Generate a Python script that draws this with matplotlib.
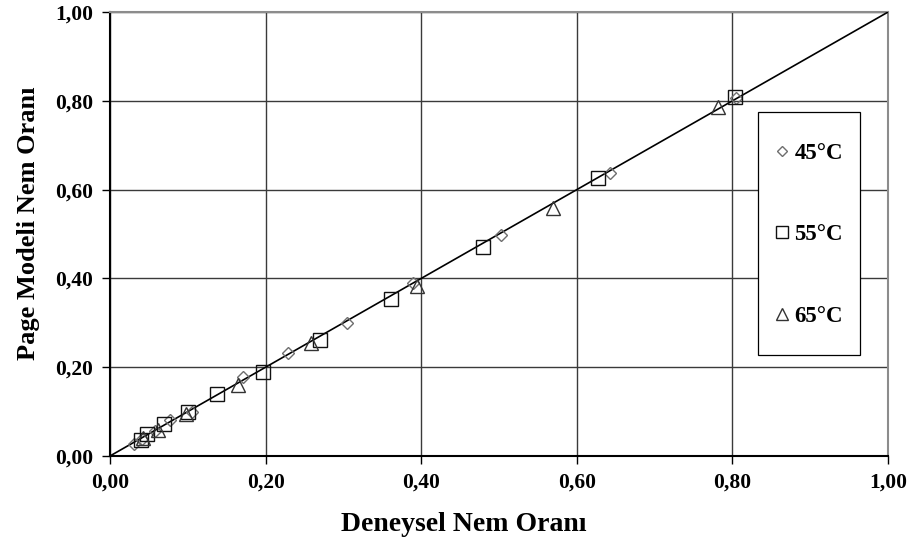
import numpy as np
import matplotlib
matplotlib.use("Agg")
import matplotlib.pyplot as plt
from matplotlib.patches import Rectangle

plt.rcParams["font.family"] = ["Liberation Serif", "DejaVu Serif"]
plt.rcParams["font.weight"] = "bold"

# Deneysel vs. Page modeli nem oranlari
x_45 = [0.031, 0.041, 0.058, 0.077, 0.105, 0.171, 0.229, 0.305, 0.390, 0.503, 0.643, 0.805]
y_45 = [0.028, 0.038, 0.057, 0.080, 0.100, 0.178, 0.232, 0.300, 0.390, 0.498, 0.637, 0.807]

x_55 = [0.040, 0.048, 0.070, 0.100, 0.137, 0.197, 0.270, 0.361, 0.479, 0.627, 0.803]
y_55 = [0.036, 0.050, 0.072, 0.100, 0.139, 0.190, 0.261, 0.354, 0.471, 0.626, 0.809]

x_65 = [0.042, 0.062, 0.098, 0.165, 0.258, 0.395, 0.569, 0.781]
y_65 = [0.040, 0.058, 0.095, 0.160, 0.254, 0.383, 0.559, 0.786]

ticks = [0.0, 0.2, 0.4, 0.6, 0.8, 1.0]
tick_labels = ["0,00", "0,20", "0,40", "0,60", "0,80", "1,00"]

fig = plt.figure(figsize=(9.12, 5.48), dpi=100)
ax = fig.add_axes([0.1206, 0.1679, 0.8531, 0.8101])

# 1:1 line
ax.plot([0, 1], [0, 1], color="black", linewidth=1.2, zorder=3)

ax.plot(x_45, y_45, linestyle="none", marker="D", markersize=6.5,
        markerfacecolor="none", markeredgecolor="#6e6e6e", markeredgewidth=1.0,
        label="45°C", zorder=4)
ax.plot(x_55, y_55, linestyle="none", marker="s", markersize=10.5,
        markerfacecolor="none", markeredgecolor="#111111", markeredgewidth=1.0,
        label="55°C", zorder=4)
ax.plot(x_65, y_65, linestyle="none", marker="^", markersize=10.5,
        markerfacecolor="none", markeredgecolor="#333333", markeredgewidth=1.0,
        label="65°C", zorder=4)

ax.set_xlim(0, 1)
ax.set_ylim(0, 1)
ax.set_xticks(ticks)
ax.set_yticks(ticks)
ax.set_xticklabels(tick_labels)
ax.set_yticklabels(tick_labels)
ax.tick_params(axis="both", direction="out", length=6, width=1.0,
               labelsize=15.5, pad=6, color="black")

ax.grid(True, color="#3a3a3a", linewidth=1.0, zorder=0)
ax.set_axisbelow(True)

for side in ["left", "bottom"]:
    ax.spines[side].set_color("black")
    ax.spines[side].set_linewidth(1.5)
for side in ["right", "top"]:
    ax.spines[side].set_color("#8c8c8c")
    ax.spines[side].set_linewidth(1.5)

ax.set_xlabel("Deneysel Nem Oranı", fontsize=20, fontweight="bold")
ax.set_ylabel("Page Modeli Nem Oranı", fontsize=19, fontweight="bold")
ax.xaxis.set_label_coords(0.455, -0.126)
ax.yaxis.set_label_coords(-0.09, 0.525)

# tall legend box drawn separately, entries centred inside it
box = Rectangle((0.833, 0.2275), 0.131, 0.547, transform=ax.transAxes,
                facecolor="white", edgecolor="black", linewidth=0.9, zorder=5)
ax.add_patch(box)

leg = ax.legend(loc="center", bbox_to_anchor=(0.8985, 0.498),
                frameon=False, fontsize=16.5, labelspacing=2.65,
                handlelength=0.6, handletextpad=0.25, borderpad=0.2,
                markerscale=0.8)
leg.set_zorder(6)

fig.savefig("out.png", dpi=100)
